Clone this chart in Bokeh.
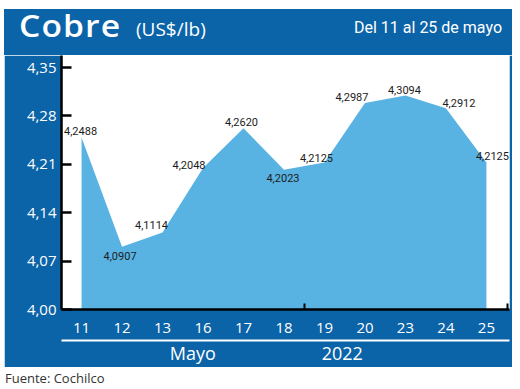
from bokeh.plotting import figure
from bokeh.models import (FixedTicker, CustomJSTickFormatter, LinearAxis, Range1d,
                          LabelSet, Div, ColumnDataSource)
from bokeh.layouts import column
from bokeh.core.properties import value
from bokeh.embed import file_html
from bokeh.resources import INLINE

# ---- data ----
days = ["11", "12", "13", "16", "17", "18", "19", "20", "23", "24", "25"]
prices = [4.2488, 4.0907, 4.1114, 4.2048, 4.2620, 4.2023, 4.2125, 4.2987, 4.3094, 4.2912, 4.2125]
y_ticks = [4.00, 4.07, 4.14, 4.21, 4.28, 4.35]
group_labels = ["Mayo", "2022"]
title_text = "Cobre"
unit_text = "(US$/lb)"
period_text = "Del 11 al 25 de mayo"
source_text = "Fuente: Cochilco"

# ---- style / layout ----
BLUE = "#0b63a8"
AREA = "#58b3e3"
group_pos = [2.75, 6.44]
minor_marks = [5.5, 10.52]
label_dx = [-1, -2, -11, -14, -2, -1, -8, -13, -1, 13, 6]
label_dy = [-6, 9, -7, -3, -6, 8, -5, -6, -6, -5, -7]

idx = list(range(len(days)))
src = ColumnDataSource(dict(
    x=idx, y=prices,
    lab=[f"{v:.4f}".replace(".", ",") for v in prices],
    dx=label_dx, dy=[-d for d in label_dy],
))

header_html = (
    f'<div style="position:relative;width:508px;height:46px;background:{BLUE};color:white;">'
    f'<span style="position:absolute;left:15px;top:2px;font:600 30px \'Open Sans\';'
    f'line-height:1;letter-spacing:1px;white-space:nowrap;display:inline-block;'
    f'transform:scaleX(1.12);transform-origin:left center;">{title_text}</span>'
    f'<span style="position:absolute;left:132px;top:11px;font:19px \'Open Sans\';'
    f'line-height:1;white-space:nowrap;">{unit_text}</span>'
    f'<span style="position:absolute;right:10px;top:11px;font:16px Roboto;'
    f'line-height:1;white-space:nowrap;">{period_text}</span>'
    '</div>'
)
header = Div(text=header_html, width=508, height=46, margin=(9, 0, 0, 4))

p = figure(width=508, height=312, output_backend="svg", toolbar_location=None,
           x_range=Range1d(-0.495, 10.57), y_range=Range1d(4.00, 4.3674),
           min_border_left=57, min_border_right=3, min_border_top=0, min_border_bottom=53,
           border_fill_color=BLUE, background_fill_color="white", outline_line_color=None,
           margin=(0, 0, 0, 4))
p.grid.visible = False

p.varea(x="x", y1=4.00, y2="y", source=src, fill_color=AREA)
p.add_layout(LabelSet(x="x", y="y", text="lab", x_offset="dx", y_offset="dy", source=src,
                      text_align="center", text_baseline="middle",
                      text_font=value("Roboto"), text_font_size=value("11px"),
                      text_color="#1c1c1c"))

# y axis
ya = p.yaxis[0]
ya.ticker = FixedTicker(ticks=y_ticks)
ya.formatter = CustomJSTickFormatter(code="return tick.toFixed(2).replace('.', ',')")
ya.axis_line_color = "black"
ya.axis_line_width = 2.5
ya.major_tick_line_color = "black"
ya.major_tick_line_width = 2.5
ya.major_tick_in = 10
ya.major_tick_out = 0
ya.minor_tick_line_color = None
ya.major_label_text_color = "white"
ya.major_label_text_font = "Open Sans"
ya.major_label_text_font_size = "15px"
ya.major_label_standoff = 5

# x axis (days)
xa = p.xaxis[0]
xa.ticker = FixedTicker(ticks=idx, minor_ticks=minor_marks)
xa.major_label_overrides = {i: d for i, d in zip(idx, days)}
xa.axis_line_color = "black"
xa.axis_line_width = 2.5
xa.major_tick_line_color = None
xa.minor_tick_line_color = "black"
xa.minor_tick_line_width = 2
xa.minor_tick_in = 6
xa.minor_tick_out = 0
xa.major_label_text_color = "white"
xa.major_label_text_font = "Open Sans"
xa.major_label_text_font_size = "15px"
xa.major_label_standoff = 7
xa.axis_label = " "
xa.axis_label_text_font_size = "2px"
xa.axis_label_standoff = 0

# group axis (Mayo / 2022)
ga = LinearAxis(ticker=FixedTicker(ticks=group_pos),
                major_label_overrides={pos: g for pos, g in zip(group_pos, group_labels)})
ga.axis_line_color = "white"
ga.axis_line_width = 2
ga.major_tick_line_color = None
ga.minor_tick_line_color = None
ga.major_label_text_color = "white"
ga.major_label_text_font = "Open Sans"
ga.major_label_text_font_size = "18px"
ga.major_label_standoff = -6
p.add_layout(ga, "below")

foot = Div(text=source_text, width=504, height=16,
           styles={"font-family": "Open Sans", "font-size": "13px", "color": "#333"},
           margin=(2, 0, 0, 5))

layout = column(header, p, foot, spacing=0)
open("out.html", "w").write(file_html(layout, INLINE))
